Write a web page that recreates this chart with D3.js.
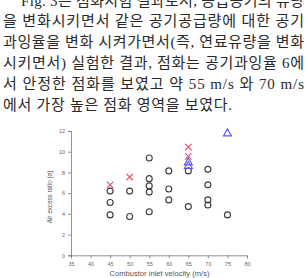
<!DOCTYPE html>
<html><head><meta charset="utf-8">
<script src="https://cdn.jsdelivr.net/npm/d3@7/dist/d3.min.js"></script>
<style>html,body{margin:0;padding:0;background:#fff;overflow:hidden}</style>
</head><body><svg id="c" width="307" height="278"></svg>
<script>
const paragraph = [
  "Fig. 3은 점화시험 결과로서, 공급공기의 유량",
  "을 변화시키면서 같은 공기공급량에 대한 공기",
  "과잉율을 변화 시켜가면서(즉, 연료유량을 변화",
  "시키면서) 실험한 결과, 점화는 공기과잉율 6에",
  "서 안정한 점화를 보였고 약 55 m/s 와 70 m/s",
  "에서 가장 높은 점화 영역을 보였다."
];
const xTicks = [35,40,45,50,55,60,65,70,75,80];
const yTicks = [0,2,4,6,8,10,12];
const circleX = [45,45,45,50,50,55,55,55,55,55,60,60,60,65,65,70,70,70,70,75];
const circleY = [6.2,5.1,3.9,6.2,3.75,9.4,7.4,6.7,6.1,4.2,8.15,6.4,5.35,8.15,4.7,8.3,6.8,5.35,4.85,3.9];
const crossX = [45,50,65,65];
const crossY = [6.8,7.55,10.45,9.55];
const triX = [65,65,75];
const triY = [8.95,8.6,11.75];
const xTitle = "Combustor inlet velocity (m/s)";
const yTitle = "Air excess ratio (α)";

const svg = d3.select("#c");
const lines = svg.append("g").attr("font-family","'Liberation Serif','Noto Sans CJK KR',serif")
  .attr("font-size",15).attr("fill","#2a2a2a");
const base0 = 5.5, lh = 20.9;
paragraph.forEach((t,i)=>{
  const x0 = i===0 ? 21 : 3;
  const x1 = i===paragraph.length-1 ? 232 : 304;
  lines.append("text").attr("x",x0).attr("y",base0+i*lh).text(t)
    .attr("textLength",x1-x0).attr("lengthAdjust","spacing");
});

const x = d3.scaleLinear().domain([35,80]).range([71,247]);
const y = d3.scaleLinear().domain([0,12]).range([255.3,131]);
const axCol = "#777";

const gx = svg.append("g").attr("transform","translate(0,255.3)");
gx.call(d3.axisBottom(x).tickValues(d3.range(35,80.1,2.5)).tickSize(2).tickFormat(""));
gx.call(d3.axisBottom(x).tickValues(xTicks).tickSize(3).tickFormat(d3.format("d")));
gx.selectAll("path,line").attr("stroke",axCol).attr("stroke-width",0.8);
gx.selectAll("text").attr("font-size",5.5).attr("fill","#666").attr("font-family","Arial,'Liberation Sans',sans-serif").attr("dy","0.9em");
const gy = svg.append("g").attr("transform","translate(71,0)");
gy.call(d3.axisLeft(y).tickValues(d3.range(0,12.1,1)).tickSize(1.5).tickFormat(""));
gy.call(d3.axisLeft(y).tickValues(yTicks).tickSize(3).tickFormat(d3.format("d")));
gy.selectAll("path,line").attr("stroke",axCol).attr("stroke-width",0.8);
gy.selectAll("text").attr("font-size",5.5).attr("fill","#666").attr("font-family","Arial,'Liberation Sans',sans-serif");

svg.append("text").attr("x",159.5).attr("y",275.5).attr("text-anchor","middle")
  .attr("font-family","Arial,'Liberation Sans',sans-serif").attr("font-size",7.6).attr("fill","#555").text(xTitle);
svg.append("text").attr("transform","translate(51.5,197) rotate(-90)").attr("text-anchor","middle")
  .attr("font-family","Arial,'Liberation Sans',sans-serif").attr("font-size",6.3).attr("fill","#555").text(yTitle);

svg.append("g").selectAll("circle").data(circleX.map((v,i)=>[v,circleY[i]])).join("circle")
  .attr("cx",d=>x(d[0])).attr("cy",d=>y(d[1])).attr("r",3).attr("fill","none").attr("stroke","#3a3a3a").attr("stroke-width",1.1);
const cs = 3.2;
svg.append("g").selectAll("path").data(crossX.map((v,i)=>[v,crossY[i]])).join("path")
  .attr("d",d=>{const cx=x(d[0]),cy=y(d[1]);return `M${cx-cs},${cy-cs}L${cx+cs},${cy+cs}M${cx-cs},${cy+cs}L${cx+cs},${cy-cs}`;})
  .attr("stroke","#e8506a").attr("stroke-width",1.2).attr("fill","none");
svg.append("g").selectAll("path").data(triX.map((v,i)=>[v,triY[i]])).join("path")
  .attr("d",d=>d3.symbol(d3.symbolTriangle,28)())
  .attr("transform",d=>`translate(${x(d[0])},${y(d[1])})`)
  .attr("stroke","#5555ee").attr("stroke-width",1.1).attr("fill","none");
</script></body></html>
